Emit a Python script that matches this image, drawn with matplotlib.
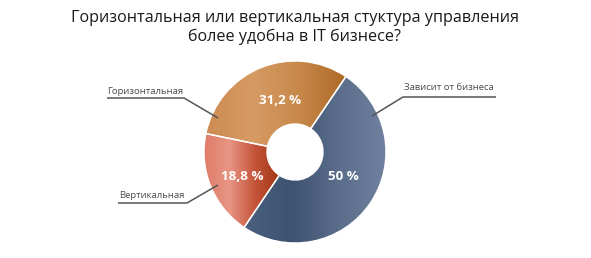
import matplotlib
matplotlib.use("Agg")
import matplotlib.pyplot as plt
import numpy as np
from matplotlib.colors import LinearSegmentedColormap

title = "Горизонтальная или вертикальная стуктура управления\nболее удобна в IT бизнесе?"
categories = ["Зависит от бизнеса", "Вертикальная", "Горизонтальная"]
values = [50.0, 18.8, 31.2]
pct_labels = ["50 %", "18,8 %", "31,2 %"]

gradients = [
    ["#4b607d", "#3e5371", "#5a6d8a", "#7081a0"],
    ["#df7c69", "#e99584", "#c4553a", "#a33614"],
    ["#cd8c52", "#d69b63", "#c7884a", "#ad6826"],
]

W, H = 591, 258
fig = plt.figure(figsize=(W / 100, H / 100), dpi=100)
ax = fig.add_axes([0, 0, 1, 1])
ax.set_xlim(0, W)
ax.set_ylim(0, H)
ax.set_aspect("equal")
ax.axis("off")

def py(y):
    return H - y

cx, cy, R = 295, py(152), 91
wedges, _ = ax.pie(values, startangle=56, counterclock=False, center=(cx, cy),
                   radius=R, wedgeprops=dict(width=R - 28, edgecolor="white", linewidth=1.0),
                   frame=False)
ax.set_xlim(0, W)
ax.set_ylim(0, H)

for w, cols in zip(wedges, gradients):
    w.set_facecolor("none")
    bb = w.get_path().get_extents(w.get_transform())
    bb = bb.transformed(ax.transData.inverted())
    cmap = LinearSegmentedColormap.from_list("g", cols)
    grad = np.linspace(0, 1, 256).reshape(1, -1)
    im = ax.imshow(grad, cmap=cmap, extent=[bb.x0, bb.x1, bb.y0, bb.y1],
                   aspect="auto", zorder=1, interpolation="bilinear")
    im.set_clip_path(w)
    w.set_zorder(2)

# percent labels
pct_pos = [(343, 176), (242, 176), (280, 101)]
for lab, (x, y) in zip(pct_labels, pct_pos):
    ax.text(x, py(y), lab, color="white", fontsize=9.6, fontweight="bold",
            family="Open Sans", ha="center", va="center", zorder=5)

# category labels with underline + leader
lab_specs = [
    (449, 88, 403, 496, 97, (372, 116)),
    (152, 196, 118, 187, 203, (218, 185)),
    (145, 92, 107, 184, 98, (218, 118)),
]
for cat, (tx, ty, ux0, ux1, uy, (lx, ly)) in zip(categories, lab_specs):
    ax.text(tx, py(ty), cat, color="#4a4a4a", fontsize=6.8, family="Open Sans",
            ha="center", va="center", zorder=5)
    if ux0 < cx:
        xs = [ux0, ux1, lx]
    else:
        xs = [ux1, ux0, lx]
    ys = [uy, uy, ly]
    ax.plot(xs, [py(v) for v in ys], color="#555555", lw=1.1, zorder=4,
            solid_capstyle="butt")

ax.text(295, py(27.5), title, ha="center", va="center", fontsize=11.6,
        family="Open Sans", color="#1a1a1a", linespacing=1.22)

fig.savefig("out.png", dpi=100)
